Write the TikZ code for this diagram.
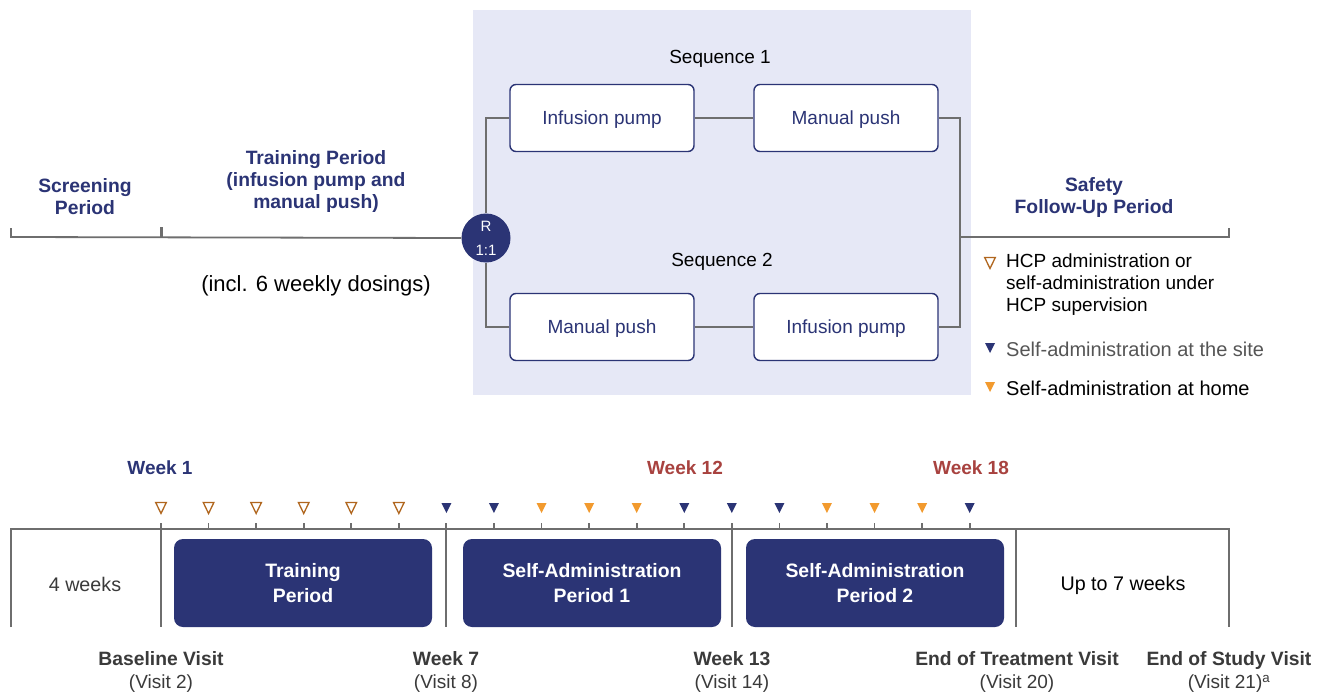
\documentclass[tikz,border=0pt]{standalone}
\usepackage{fontspec}
\setmainfont{Liberation Sans}
\definecolor{navy}{HTML}{2B3475}
\definecolor{lav}{HTML}{E6E8F6}
\definecolor{lgray}{HTML}{6E6E6E}
\definecolor{orng}{HTML}{F29A2E}
\definecolor{brwn}{HTML}{B0661E}
\definecolor{wred}{HTML}{A8423F}
\definecolor{dgray}{HTML}{3A3A3A}
\definecolor{mgray}{HTML}{555555}
\tikzset{
  txt/.style={inner sep=0pt, align=center, font=\fontsize{19}{22}\selectfont},
  navylbl/.style={txt, text=navy, font=\fontsize{19.3}{22}\selectfont\bfseries},
  seqbox/.style={draw=navy, line width=1.4pt, fill=white, rounded corners=6pt, text depth=0pt,
     minimum width=184pt, minimum height=67pt, text=navy, font=\fontsize{19}{22}\selectfont},
  perbox/.style={fill=navy, rounded corners=9pt, minimum width=258pt, minimum height=88pt,
     text=white, align=center, font=\fontsize{19.4}{25}\selectfont\bfseries},
  conn/.style={draw=lgray, line width=1.8pt},
  weeklbl/.style={txt, font=\fontsize{19}{22}\selectfont\bfseries},
  visitlbl/.style={txt, text=dgray, font=\fontsize{19}{23}\selectfont},
  opentri/.pic={\draw[brwn, line width=1.3pt, line join=miter] (-5.3,-5.5) -- (5.3,-5.5) -- (0,5.5) -- cycle;},
  navytri/.pic={\fill[navy] (-5,-5) -- (5,-5) -- (0,5) -- cycle;},
  orngtri/.pic={\fill[orng] (-5,-5) -- (5,-5) -- (0,5) -- cycle;},
}
\begin{document}
\begin{tikzpicture}[x=1pt, y=-1pt]
\useasboundingbox (0,0) rectangle (1326,693);
\fill[white] (0,0) rectangle (1326,693);
% shaded randomisation area
\fill[lav] (473,10) rectangle (971,395);

% top timeline
\node[circle, fill=navy, minimum size=49pt, inner sep=0pt, text=white, align=center,
      font=\fontsize{15}{24}\selectfont] (R) at (486,238) {R\\1:1};
\coordinate (tl0) at (11,228);
\coordinate (tl1) at (11,237);
\coordinate (tk1) at (161,227);
\coordinate (tk1b) at (161,237);
\draw[conn] (tl0) -- (tl1) -- (R.west);
\draw[lgray, line width=3pt] (tk1) -- (tk1b);

\node[navylbl] (scr) at (85,197) {Screening\\Period};
\node[navylbl] (trn) at (316,182) {Training Period\\(infusion pump and\\manual push)};
\node[txt, font=\fontsize{22}{24}\selectfont] (incl) at (316,286) {(incl. 6 weekly dosings)};
\node[navylbl] (saf) at (1094,198) {Safety\\Follow-Up Period};

\node[txt] (seq1) at (720,59) {Sequence 1};
\node[txt] (seq2) at (722,262) {Sequence 2};

\node[seqbox] (ip1) at (602,118) {Infusion pump};
\node[seqbox] (mp1) at (846,118) {Manual push};
\node[seqbox] (mp2) at (602,327) {Manual push};
\node[seqbox] (ip2) at (846,327) {Infusion pump};

\coordinate (rj) at (960,237);
\coordinate (re) at (1229,237);
\coordinate (ret) at (1229,228);
\draw[conn] (R.north) |- (ip1.west);
\draw[conn] (ip1.east) -- (mp1.west);
\draw[conn] (R.south) |- (mp2.west);
\draw[conn] (mp2.east) -- (ip2.west);
\draw[conn] (mp1.east) -| (rj) |- (ip2.east);
\draw[conn] (rj) -- (re) -- (ret);

% legend
\pic at (990,263) {opentri};
\node[txt, anchor=west, align=left] (lg1) at (1006,285) {HCP administration or\\self-administration under\\HCP supervision};
\pic at (990,348) {navytri};
\node[txt, anchor=west, text=mgray, font=\fontsize{20}{22}\selectfont] (lg2) at (1006,349) {Self-administration at the site};
\pic at (990,387) {orngtri};
\node[txt, anchor=west, font=\fontsize{20}{22}\selectfont] (lg3) at (1006,388) {Self-administration at home};

% bottom timeline
\node[weeklbl, text=navy] (w1) at (160,468) {Week 1};
\node[weeklbl, text=wred] (w12) at (685,468) {Week 12};
\node[weeklbl, text=wred] (w18) at (971,468) {Week 18};

\coordinate (b0) at (11,627);
\coordinate (b1) at (11,529);
\coordinate (b2) at (1229,529);
\coordinate (b3) at (1229,627);
\draw[conn] (b0) -- (b1) -- (b2) -- (b3);
\foreach \x in {161,446,732} \draw[conn] (\x,523) -- (\x,627);
\draw[conn] (1016,529) -- (1016,627);

\foreach \i/\t in {0/opentri,1/opentri,2/opentri,3/opentri,4/opentri,5/opentri,
                   6/navytri,7/navytri,8/orngtri,9/orngtri,10/orngtri,11/navytri,
                   12/navytri,13/navytri,14/orngtri,15/orngtri,16/orngtri,17/navytri}{
  \pgfmathsetmacro{\xx}{161+47.57*\i}
  \draw[conn] (\xx,523) -- (\xx,529);
  \pic at (\xx,508) {\t};
}

\node[perbox] (tp) at (303,583) {Training\\Period};
\node[perbox] (sa1) at (592,583) {Self-Administration\\Period 1};
\node[perbox] (sa2) at (875,583) {Self-Administration\\Period 2};
\node[txt, text=dgray, font=\fontsize{19.7}{22}\selectfont] (fw) at (85,584) {4 weeks};
\node[txt, font=\fontsize{19.7}{22}\selectfont] (u7) at (1123,585) {Up to 7 weeks};

\node[visitlbl] (v2) at (161,672) {\textbf{\fontsize{19.3}{23}\selectfont Baseline Visit}\\(Visit 2)};
\node[visitlbl] (v8) at (446,672) {\textbf{\fontsize{19.3}{23}\selectfont Week 7}\\(Visit 8)};
\node[visitlbl] (v14) at (732,672) {\textbf{\fontsize{19.3}{23}\selectfont Week 13}\\(Visit 14)};
\node[visitlbl] (v20) at (1017,672) {\textbf{\fontsize{19.3}{23}\selectfont End of Treatment Visit}\\(Visit 20)};
\node[visitlbl] (v21) at (1229,672) {\textbf{\fontsize{19.3}{23}\selectfont End of Study Visit}\\(Visit 21)\textsuperscript{a}};
\end{tikzpicture}
\end{document}
